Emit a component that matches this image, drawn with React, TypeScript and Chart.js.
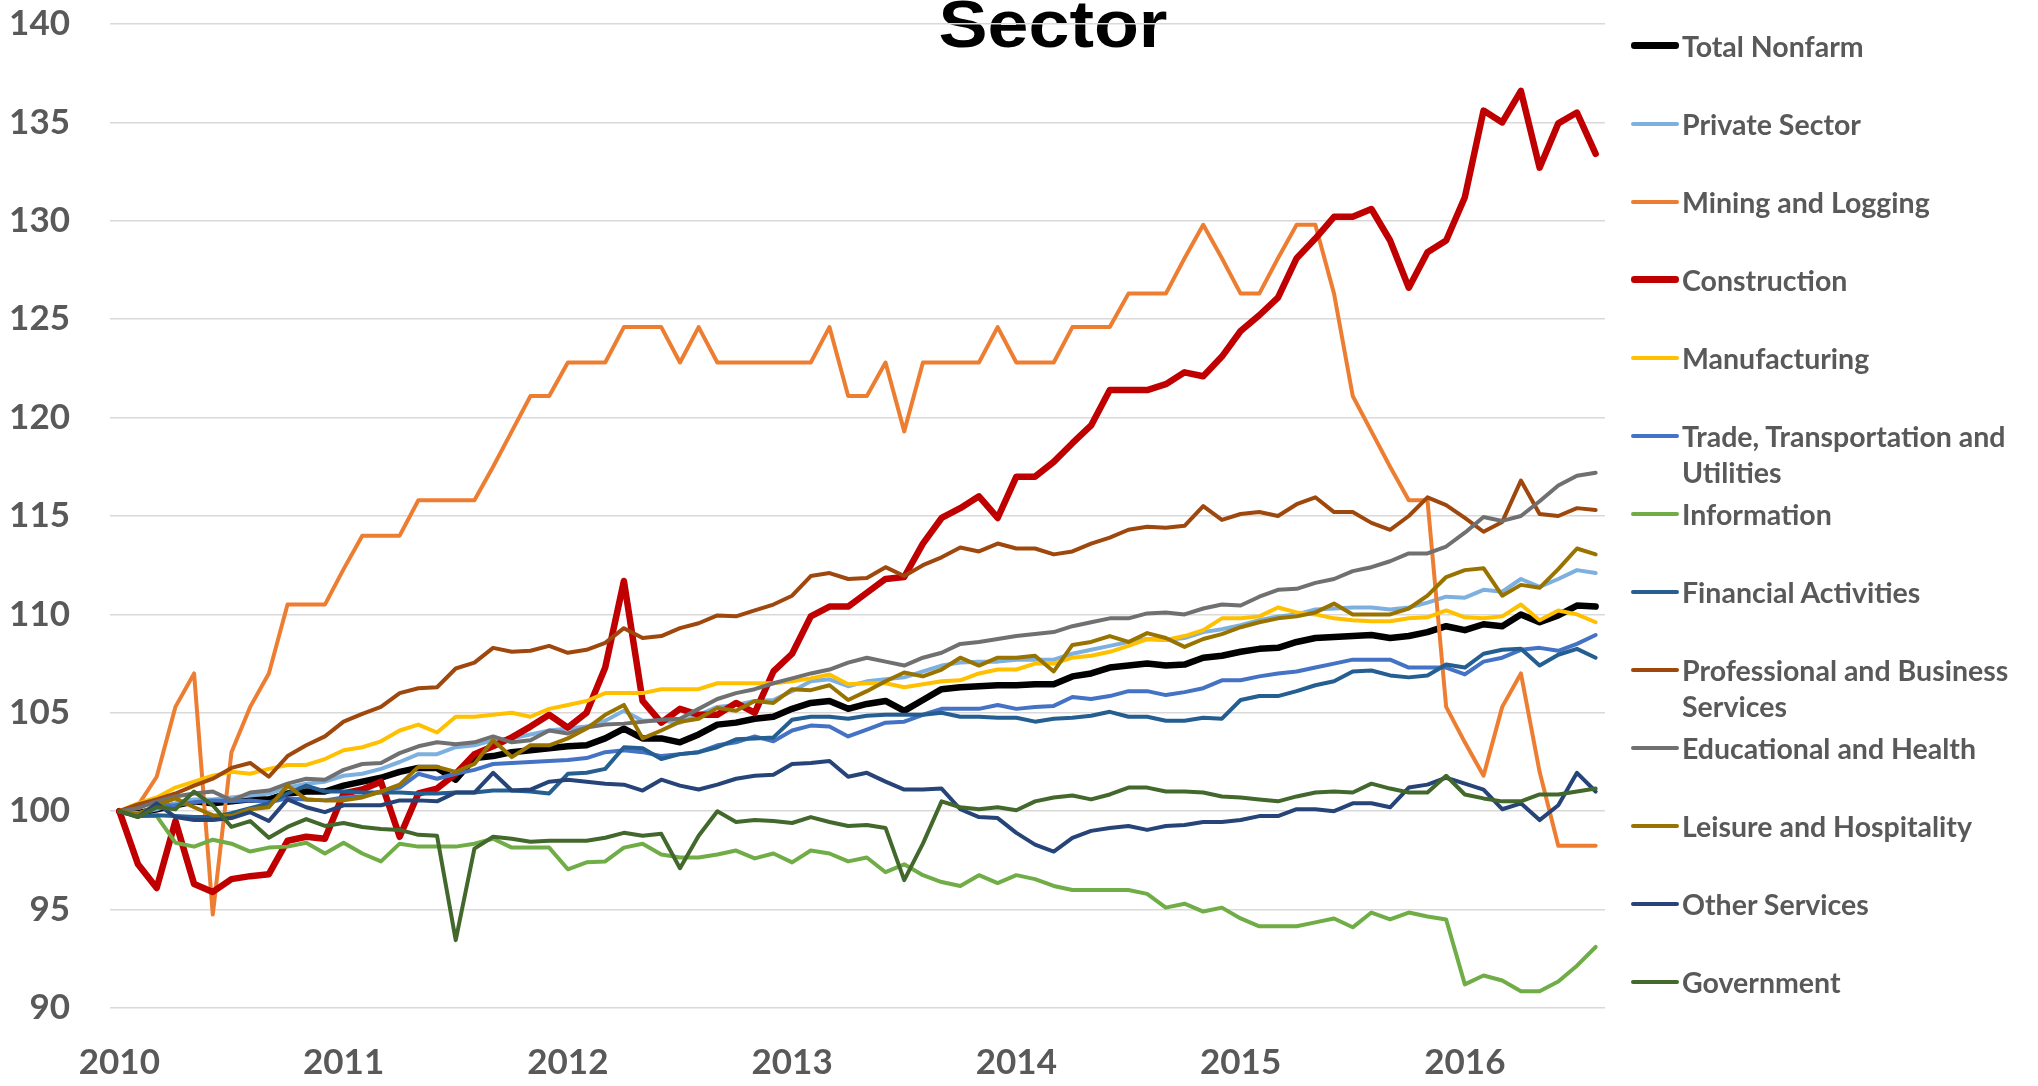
import React, { useEffect, useRef } from 'react';
import { Chart, registerables } from 'chart.js';

Chart.register(...registerables);

const TITLE = 'Sector';
const years = ['2010', '2011', '2012', '2013', '2014', '2015', '2016'];
const MONTH_COUNT = 80; // Jan 2010 .. Aug 2016
const categories: string[] = [];
for (const y of years) {
  for (let m = 1; m <= 12; m++) {
    if (categories.length < MONTH_COUNT) categories.push(`${y}-${String(m).padStart(2, '0')}`);
  }
}
const yTicks = [90, 95, 100, 105, 110, 115, 120, 125, 130, 135, 140];

const totalNonfarm = [
  100, 99.9, 100.1, 100.3, 100.5, 100.4, 100.5, 100.6, 100.6, 100.9,
  101.0, 101.0, 101.3, 101.5, 101.7, 102.0, 102.2, 102.2, 101.6, 102.7,
  102.8, 103.0, 103.1, 103.2, 103.3, 103.35, 103.7, 104.2, 103.7, 103.7,
  103.5, 103.9, 104.4, 104.5, 104.7, 104.8, 105.2, 105.5, 105.6, 105.2,
  105.45, 105.6, 105.1, 105.65, 106.2, 106.3, 106.35, 106.4, 106.4, 106.45,
  106.45, 106.85, 107.0, 107.3, 107.4, 107.5, 107.4, 107.45, 107.8, 107.9,
  108.1, 108.25, 108.3, 108.6, 108.8, 108.85, 108.9, 108.95, 108.8, 108.9,
  109.1, 109.4, 109.2, 109.5, 109.4, 110.0, 109.6, 109.95, 110.45, 110.4,
];
const privateSector = [
  100, 99.9, 100.1, 100.4, 100.6, 100.6, 100.7, 100.8, 100.9, 101.2,
  101.4, 101.5, 101.8, 101.9, 102.15, 102.5, 102.9, 102.9, 103.25, 103.35,
  103.6, 103.7, 103.9, 104.1, 104.2, 104.3, 104.6, 105.1, 104.6, 104.6,
  104.5, 104.9, 105.3, 105.4, 105.6, 105.65, 106.1, 106.6, 106.7, 106.35,
  106.6, 106.7, 106.8, 107.1, 107.4, 107.55, 107.6, 107.6, 107.7, 107.7,
  107.7, 108.0, 108.2, 108.4, 108.6, 108.75, 108.7, 108.8, 109.1, 109.25,
  109.45, 109.7, 109.9, 110.0, 110.25, 110.3, 110.35, 110.35, 110.25, 110.35,
  110.6, 110.9, 110.85, 111.25, 111.15, 111.8, 111.4, 111.8, 112.25, 112.1,
];
const miningLogging = [
  100, 100.3, 101.75, 105.3, 107.0, 94.75, 103.0, 105.3, 107.0, 110.5,
  110.5, 110.5, 112.3, 114.0, 114.0, 114.0, 115.8, 115.8, 115.8, 115.8,
  117.5, 119.3, 121.1, 121.1, 122.8, 122.8, 122.8, 124.6, 124.6, 124.6,
  122.8, 124.6, 122.8, 122.8, 122.8, 122.8, 122.8, 122.8, 124.6, 121.1,
  121.1, 122.8, 119.3, 122.8, 122.8, 122.8, 122.8, 124.6, 122.8, 122.8,
  122.8, 124.6, 124.6, 124.6, 126.3, 126.3, 126.3, 128.1, 129.8, 128.1,
  126.3, 126.3, 128.1, 129.8, 129.8, 126.3, 121.1, 119.3, 117.5, 115.8,
  115.8, 105.3, 103.5, 101.8, 105.3, 107.0, 102.0, 98.25, 98.25, 98.25,
];
const construction = [
  100, 97.3, 96.1, 99.5, 96.3, 95.9, 96.55, 96.7, 96.8, 98.5,
  98.7, 98.6, 100.9, 101.1, 101.5, 98.7, 100.9, 101.15, 101.9, 102.9,
  103.3, 103.75, 104.3, 104.9, 104.25, 105.0, 107.3, 111.7, 105.6, 104.5,
  105.2, 104.9, 104.9, 105.5, 105.0, 107.1, 108.0, 109.9, 110.4, 110.4,
  111.1, 111.8, 111.9, 113.6, 114.9, 115.4, 116.0, 114.9, 117.0, 117.0,
  117.75, 118.7, 119.6, 121.4, 121.4, 121.4, 121.7, 122.3, 122.1, 123.1,
  124.4, 125.2, 126.1, 128.1, 129.1, 130.2, 130.2, 130.6, 129.0, 126.6,
  128.4, 129.0, 131.2, 135.6, 135.0, 136.6, 132.7, 134.95, 135.5, 133.4,
];
const manufacturing = [
  100, 100.4, 100.7, 101.2, 101.5, 101.8, 102.0, 101.9, 102.15, 102.35,
  102.35, 102.65, 103.1, 103.25, 103.55, 104.1, 104.4, 104.0, 104.8, 104.8,
  104.9, 105.0, 104.8, 105.2, 105.4, 105.6, 106.0, 106.0, 106.0, 106.2,
  106.2, 106.2, 106.5, 106.5, 106.5, 106.5, 106.6, 106.75, 106.95, 106.45,
  106.5, 106.5, 106.3, 106.45, 106.6, 106.65, 107.0, 107.2, 107.2, 107.5,
  107.5, 107.8, 107.9, 108.1, 108.4, 108.75, 108.7, 108.9, 109.2, 109.8,
  109.8, 109.9, 110.35, 110.1, 110.0, 109.8, 109.7, 109.65, 109.65, 109.8,
  109.85, 110.2, 109.85, 109.8, 109.9, 110.5, 109.7, 110.2, 110.0, 109.6,
];
const tradeTransportUtilities = [
  100, 99.85, 100.25, 100.3, 100.45, 100.55, 100.5, 100.55, 100.45, 100.65,
  100.6, 100.55, 100.7, 100.75, 101.0, 101.2, 101.9, 101.65, 101.9, 102.1,
  102.4, 102.45, 102.5, 102.55, 102.6, 102.7, 103.0, 103.1, 103.0, 102.8,
  102.9, 103.0, 103.35, 103.5, 103.8, 103.55, 104.1, 104.35, 104.3, 103.8,
  104.15, 104.5, 104.55, 104.9, 105.2, 105.2, 105.2, 105.4, 105.2, 105.3,
  105.35, 105.8, 105.7, 105.85, 106.1, 106.1, 105.9, 106.05, 106.25, 106.65,
  106.65, 106.85, 107.0, 107.1, 107.3, 107.5, 107.7, 107.7, 107.7, 107.3,
  107.3, 107.3, 106.95, 107.6, 107.8, 108.2, 108.3, 108.15, 108.5, 108.95,
];
const information = [
  100, 99.75, 99.75, 98.4, 98.2, 98.55, 98.35, 97.95, 98.15, 98.2,
  98.4, 97.85, 98.4, 97.85, 97.45, 98.35, 98.2, 98.2, 98.2, 98.35,
  98.6, 98.15, 98.15, 98.15, 97.05, 97.4, 97.45, 98.15, 98.35, 97.8,
  97.65, 97.65, 97.8, 98.0, 97.6, 97.85, 97.4, 98.0, 97.85, 97.45,
  97.65, 96.9, 97.3, 96.75, 96.4, 96.2, 96.75, 96.35, 96.75, 96.55,
  96.2, 96.0, 96.0, 96.0, 96.0, 95.8, 95.1, 95.3, 94.9, 95.1,
  94.55, 94.15, 94.15, 94.15, 94.35, 94.55, 94.1, 94.85, 94.5, 94.85,
  94.65, 94.5, 91.2, 91.65, 91.4, 90.85, 90.85, 91.35, 92.15, 93.1,
];
const financialActivities = [
  100, 99.75, 99.8, 99.75, 99.7, 99.7, 99.9, 100.15, 100.4, 100.9,
  101.3, 101.0, 101.0, 100.95, 100.95, 100.95, 100.9, 100.9, 100.95, 100.95,
  101.05, 101.05, 101.0, 100.9, 101.9, 101.95, 102.15, 103.25, 103.2, 102.65,
  102.9, 103.0, 103.25, 103.65, 103.7, 103.75, 104.65, 104.8, 104.8, 104.7,
  104.85, 104.9, 104.9, 104.9, 105.0, 104.8, 104.8, 104.75, 104.75, 104.55,
  104.7, 104.75, 104.85, 105.05, 104.8, 104.8, 104.6, 104.6, 104.75, 104.7,
  105.65, 105.85, 105.85, 106.1, 106.4, 106.6, 107.1, 107.15, 106.9, 106.8,
  106.9, 107.45, 107.3, 108.0, 108.2, 108.25, 107.4, 107.95, 108.25, 107.8,
];
const professionalBusiness = [
  100, 100.35, 100.6, 100.9, 101.3, 101.65, 102.2, 102.45, 101.75, 102.8,
  103.35, 103.8, 104.55, 104.95, 105.3, 106.0, 106.25, 106.3, 107.25, 107.55,
  108.3, 108.1, 108.15, 108.4, 108.05, 108.2, 108.55, 109.3, 108.8, 108.9,
  109.3, 109.55, 109.95, 109.9, 110.2, 110.5, 110.95, 111.95, 112.1, 111.8,
  111.85, 112.4, 111.95, 112.5, 112.9, 113.4, 113.2, 113.6, 113.35, 113.35,
  113.05, 113.2, 113.6, 113.9, 114.3, 114.45, 114.4, 114.5, 115.5, 114.8,
  115.1, 115.2, 115.0, 115.6, 115.95, 115.2, 115.2, 114.65, 114.3, 115.0,
  115.95, 115.55, 114.9, 114.2, 114.7, 116.8, 115.1, 115.0, 115.4, 115.3,
];
const educationalHealth = [
  100, 100.15, 100.5, 100.75, 100.9, 101.0, 100.55, 100.95, 101.05, 101.4,
  101.65, 101.6, 102.1, 102.4, 102.45, 102.95, 103.3, 103.5, 103.4, 103.5,
  103.8, 103.5, 103.6, 104.1, 103.95, 104.25, 104.4, 104.45, 104.55, 104.65,
  104.7, 105.2, 105.7, 106.0, 106.2, 106.5, 106.75, 107.0, 107.2, 107.55,
  107.8, 107.6, 107.4, 107.8, 108.05, 108.5, 108.6, 108.75, 108.9, 109.0,
  109.1, 109.4, 109.6, 109.8, 109.8, 110.05, 110.1, 110.0, 110.3, 110.5,
  110.45, 110.9, 111.25, 111.3, 111.6, 111.8, 112.2, 112.4, 112.7, 113.1,
  113.1, 113.45, 114.15, 114.95, 114.75, 115.0, 115.75, 116.55, 117.05, 117.2,
];
const leisureHospitality = [
  100, 99.85, 100.3, 100.65, 100.2, 99.8, 99.75, 100.1, 100.2, 101.3,
  100.6, 100.55, 100.55, 100.7, 101.0, 101.35, 102.25, 102.25, 102.0, 102.4,
  103.6, 102.75, 103.35, 103.35, 103.7, 104.2, 104.9, 105.4, 103.7, 104.1,
  104.55, 104.7, 105.25, 105.1, 105.6, 105.5, 106.2, 106.15, 106.4, 105.65,
  106.1, 106.6, 107.05, 106.85, 107.2, 107.8, 107.4, 107.8, 107.8, 107.9,
  107.1, 108.45, 108.6, 108.9, 108.6, 109.05, 108.8, 108.35, 108.75, 109.0,
  109.35, 109.6, 109.8, 109.9, 110.1, 110.55, 110.0, 110.0, 110.0, 110.3,
  110.95, 111.9, 112.25, 112.35, 110.95, 111.5, 111.35, 112.3, 113.35, 113.05,
];
const otherServices = [
  100, 99.7, 100.4, 99.7, 99.55, 99.55, 99.65, 99.95, 99.5, 100.6,
  100.2, 99.95, 100.3, 100.3, 100.3, 100.55, 100.55, 100.5, 100.95, 100.95,
  101.95, 101.05, 101.1, 101.5, 101.6, 101.5, 101.4, 101.35, 101.05, 101.6,
  101.3, 101.1, 101.35, 101.65, 101.8, 101.85, 102.4, 102.45, 102.55, 101.75,
  101.95, 101.5, 101.1, 101.1, 101.15, 100.1, 99.7, 99.65, 98.9, 98.3,
  97.95, 98.65, 99.0, 99.15, 99.25, 99.05, 99.25, 99.3, 99.45, 99.45,
  99.55, 99.75, 99.75, 100.1, 100.1, 100.0, 100.4, 100.4, 100.2, 101.2,
  101.35, 101.7, 101.4, 101.1, 100.1, 100.4, 99.55, 100.3, 101.95, 101.0,
];
const government = [
  100, 99.7, 100.2, 100.1, 101.0, 100.3, 99.2, 99.5, 98.65, 99.2,
  99.6, 99.25, 99.4, 99.2, 99.1, 99.05, 98.8, 98.75, 93.45, 98.1,
  98.7, 98.6, 98.45, 98.5, 98.5, 98.5, 98.65, 98.9, 98.75, 98.85,
  97.1, 98.75, 100.0, 99.45, 99.55, 99.5, 99.4, 99.7, 99.45, 99.25,
  99.3, 99.15, 96.5, 98.35, 100.5, 100.2, 100.1, 100.2, 100.05, 100.5,
  100.7, 100.8, 100.6, 100.85, 101.2, 101.2, 101.0, 101.0, 100.95, 100.75,
  100.7, 100.6, 100.5, 100.75, 100.95, 101.0, 100.95, 101.4, 101.15, 100.95,
  100.95, 101.8, 100.85, 100.65, 100.5, 100.5, 100.85, 100.85, 101.0, 101.15,
];

const seriesNames = [
  'Total Nonfarm',
  'Private Sector',
  'Mining and Logging',
  'Construction',
  'Manufacturing',
  'Trade, Transportation and Utilities',
  'Information',
  'Financial Activities',
  'Professional and Business Services',
  'Educational and Health',
  'Leisure and Hospitality',
  'Other Services',
  'Government',
];
const seriesData = [
  totalNonfarm, privateSector, miningLogging, construction, manufacturing,
  tradeTransportUtilities, information, financialActivities, professionalBusiness,
  educationalHealth, leisureHospitality, otherServices, government,
];
const seriesColors = [
  '#000000', '#7EB0DF', '#ED7D31', '#C00000', '#FFC000', '#4472C4', '#70AD47',
  '#255E91', '#9E480E', '#707070', '#997300', '#264478', '#43682B',
];
const thickSeries = ['Total Nonfarm', 'Construction'];

const TEXT_COLOR = '#595959';
const FONT = 'Lato, "Liberation Sans", Arial, sans-serif';

const W = 2038;
const H = 1086;

const titlePlugin = {
  id: 'underlayTitle',
  beforeDraw(chart: any) {
    const ctx = chart.ctx as CanvasRenderingContext2D;
    ctx.save();
    ctx.font = 'bold 66px "Liberation Sans", Arial, sans-serif';
    ctx.fillStyle = '#000000';
    ctx.textBaseline = 'alphabetic';
    ctx.textAlign = 'center';
    const w = ctx.measureText(TITLE).width;
    ctx.translate(1053, 47);
    ctx.scale(229 / w, 1);
    ctx.fillText(TITLE, 0, 0);
    ctx.restore();
  },
};

export default function App() {
  const canvasRef = useRef<HTMLCanvasElement>(null);

  useEffect(() => {
    document.body.style.margin = '0';
    const canvas = canvasRef.current;
    if (!canvas) return;
    const n = seriesNames.length;
    const chart = new Chart(canvas, {
      type: 'line',
      data: {
        labels: categories,
        datasets: seriesNames.map((name, i) => ({
          label: name,
          data: seriesData[i],
          borderColor: seriesColors[i],
          backgroundColor: seriesColors[i],
          borderWidth: thickSeries.includes(name) ? 6.5 : 4,
          pointRadius: 0,
          pointHoverRadius: 0,
          tension: 0,
          fill: false,
          borderCapStyle: 'round',
          borderJoinStyle: 'round',
          order: n - 1 - i,
        })),
      },
      options: {
        animation: false,
        responsive: false,
        devicePixelRatio: 1,
        layout: { padding: { left: 0, right: W - 1605, top: 24, bottom: 0 } },
        plugins: {
          legend: { display: false },
          title: { display: false },
          tooltip: { enabled: false },
        },
        scales: {
          x: {
            type: 'category',
            offset: true,
            grid: { display: false, drawTicks: false },
            border: { display: false },
            ticks: {
              autoSkip: false,
              maxRotation: 0,
              minRotation: 0,
              padding: 34,
              color: TEXT_COLOR,
              font: { family: FONT, size: 35, weight: 'bold' },
              callback: (_v: any, i: number) => (i % 12 === 0 ? years[i / 12] : ''),
            },
            afterFit: (s: any) => {
              s.height = 78;
              s.paddingLeft = 0;
              s.paddingRight = 0;
            },
          },
          y: {
            min: yTicks[0],
            max: yTicks[yTicks.length - 1],
            grid: { color: '#D9D9D9', lineWidth: 1.5, drawTicks: false },
            border: { display: false },
            ticks: {
              stepSize: 5,
              padding: 40,
              color: TEXT_COLOR,
              font: { family: FONT, size: 35, weight: 'bold' },
            },
            afterFit: (s: any) => {
              s.width = 110;
              s.paddingTop = 0;
              s.paddingBottom = 0;
            },
          },
        },
      },
      plugins: [titlePlugin],
    } as any);
    return () => chart.destroy();
  }, []);

  return (
    <div style={{ position: 'relative', width: W, height: H, background: '#ffffff', overflow: 'hidden' }}>
      <canvas
        ref={canvasRef}
        width={W}
        height={H}
        style={{ position: 'absolute', left: 0, top: 0, width: W, height: H }}
      />
      {seriesNames.map((name, k) => {
        const lw = thickSeries.includes(name) ? 6.5 : 4;
        return (
          <div
            key={name}
            style={{
              position: 'absolute',
              left: 1631,
              top: 45.5 + 78 * k - 18,
              display: 'flex',
              alignItems: 'flex-start',
            }}
          >
            <div
              style={{
                flex: 'none',
                width: 48,
                height: lw,
                marginTop: 18 - lw / 2,
                background: seriesColors[k],
                borderRadius: lw / 2,
              }}
            />
            <div
              style={{
                width: 352,
                marginLeft: 3,
                fontFamily: FONT,
                fontWeight: 'bold',
                fontSize: 28.5,
                lineHeight: '36px',
                color: TEXT_COLOR,
              }}
            >
              {name}
            </div>
          </div>
        );
      })}
    </div>
  );
}
